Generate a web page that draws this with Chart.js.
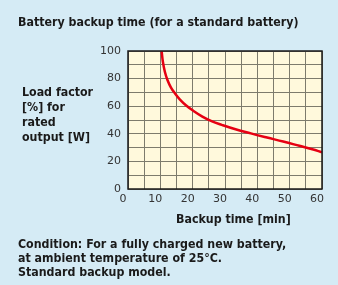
<!DOCTYPE html>
<html lang="en">
<head>
  <meta charset="UTF-8" />
  <title>Battery backup time</title>
  <script src="https://cdn.jsdelivr.net/npm/chart.js"></script>
  <style>
    html, body {
      margin: 0;
      padding: 0;
      width: 338px;
      height: 285px;
      overflow: hidden;
      background: #d5ebf5;
      font-family: "DejaVu Sans Condensed", "DejaVu Sans", Verdana, sans-serif;
      font-stretch: condensed;
      font-weight: bold;
      font-size: 12.3px;
      color: #1a1a1a;
    }
    #chart { position: absolute; left: 0; top: 0; }
    .txt { position: absolute; white-space: nowrap; line-height: 14px; }
    #title { left: 18px; top: 15px; }
    #ytitle { left: 22px; top: 85px; line-height: 15px; }
    #xtitle { left: 176px; top: 212px; }
    #note { left: 18px; top: 237px; }
  </style>
</head>
<body>
  <canvas id="chart" width="338" height="285"></canvas>
  <div id="title" class="txt">Battery backup time (for a standard battery)</div>
  <div id="ytitle" class="txt">Load factor<br>[%] for<br>rated<br>output [W]</div>
  <div id="xtitle" class="txt">Backup time [min]</div>
  <div id="note" class="txt">Condition: For a fully charged new battery,<br>at ambient temperature of 25°C.<br>Standard backup model.</div>

  <script>
    // backup time [min] vs load factor [%]
    const backupMin = [10.4, 10.8, 11.4, 12.2, 13.3, 14.6, 16, 18, 20, 23, 26, 29, 33, 38, 43, 48, 53, 57, 60];
    const loadPct   = [100, 92, 85, 79, 73.5, 69, 65, 60.5, 57, 52.5, 49, 46.5, 43.5, 40.3, 37.3, 34.4, 31.3, 28.8, 26.6];
    const xTicks = [0, 10, 20, 30, 40, 50, 60];
    const yTicks = [0, 20, 40, 60, 80, 100];

    const points = backupMin.map((x, i) => ({ x, y: loadPct[i] }));

    // yellow plot background + black frame
    const plotFrame = {
      id: 'plotFrame',
      beforeDraw(chart) {
        const { ctx, chartArea: a } = chart;
        ctx.save();
        ctx.fillStyle = '#fff9dc';
        ctx.fillRect(a.left, a.top, a.right - a.left, a.bottom - a.top);
        ctx.restore();
      },
      afterDatasetsDraw(chart) {
        const { ctx, chartArea: a } = chart;
        ctx.save();
        ctx.strokeStyle = '#1a1a1a';
        ctx.lineWidth = 1.5;
        ctx.strokeRect(a.left, a.top, a.right - a.left, a.bottom - a.top);
        ctx.restore();
      }
    };

    new Chart(document.getElementById('chart'), {
      type: 'line',
      data: {
        datasets: [{
          data: points,
          borderColor: '#e60012',
          borderWidth: 2.5,
          pointRadius: 0,
          tension: 0.4,
          fill: false
        }]
      },
      options: {
        responsive: false,
        animation: false,
        layout: { padding: { left: 0, top: 51, right: 16, bottom: 0 } },
        plugins: { legend: { display: false }, tooltip: { enabled: false } },
        scales: {
          x: {
            type: 'linear',
            min: 0, max: 60,
            afterFit: s => { s.height = 96; },
            grid: { color: '#7d7b6c', lineWidth: 1, drawTicks: false },
            border: { display: false },
            ticks: {
              stepSize: 5,
              padding: 4,
              labelOffset: -5,
              autoSkip: false,
              maxRotation: 0,
              minRotation: 0,
              color: '#333',
              font: { family: 'DejaVu Sans', size: 11 },
              callback: v => xTicks.includes(v) ? String(v) : ''
            }
          },
          y: {
            min: 0, max: 100,
            afterFit: s => { s.width = 128; },
            grid: { color: '#7d7b6c', lineWidth: 1, drawTicks: false },
            border: { display: false },
            ticks: {
              stepSize: 10,
              padding: 7,
              autoSkip: false,
              color: '#333',
              font: { family: 'DejaVu Sans', size: 11 },
              callback: v => yTicks.includes(v) ? String(v) : ''
            }
          }
        }
      },
      plugins: [plotFrame]
    });
  </script>
</body>
</html>
